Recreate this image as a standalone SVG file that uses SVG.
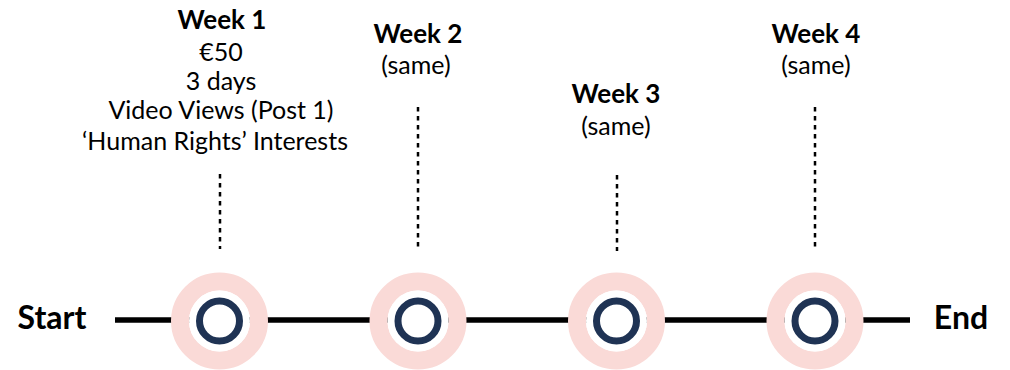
<svg xmlns="http://www.w3.org/2000/svg" width="1010" height="370" viewBox="0 0 1010 370">
  <style>
    text { font-family: Lato, "Open Sans", "Liberation Sans", sans-serif; fill: #000; text-anchor: middle; }
    .title { font-weight: bold; font-size: 26px; }
    .body { font-size: 25px; }
    .end { font-weight: bold; font-size: 32px; }
    .halo { fill: none; stroke: #FADAD7; stroke-width: 18; }
    .gap { fill: #fff; }
    .ring { fill: #fff; stroke: #1F3354; stroke-width: 7; }
    .tick { stroke: #000; stroke-width: 2.5; stroke-dasharray: 4.5 4.5; }
  </style>
  <rect width="1010" height="370" fill="#fff"/>

  <!-- timeline axis and tick connectors -->
  <g id="connectors">
    <line x1="115" y1="320" x2="910" y2="320" stroke="#000" stroke-width="5.5"/>
    <line class="tick" x1="220" y1="174" x2="220" y2="249"/>
    <line class="tick" x1="418" y1="107" x2="418" y2="251"/>
    <line class="tick" x1="617" y1="175" x2="617" y2="251"/>
    <line class="tick" x1="815" y1="107" x2="815" y2="251"/>
  </g>

  <g id="start"><text class="end" x="52" y="329">Start</text></g>
  <g id="end"><text class="end" x="961" y="329">End</text></g>

  <g id="week1">
    <circle class="halo" cx="219.5" cy="321" r="39.5"/>
    <circle class="gap" cx="219.5" cy="321" r="30.5"/>
    <circle class="ring" cx="219.5" cy="321" r="20"/>
    <text class="title" x="222" y="29">Week 1</text>
    <text class="body" x="221" y="61">€50</text>
    <text class="body" x="221" y="90">3 days</text>
    <text class="body" x="221" y="119">Video Views (Post 1)</text>
    <text class="body" x="215" y="150">‘Human Rights’ Interests</text>
  </g>

  <g id="week2">
    <circle class="halo" cx="418" cy="321" r="39.5"/>
    <circle class="gap" cx="418" cy="321" r="30.5"/>
    <circle class="ring" cx="418" cy="321" r="20"/>
    <text class="title" x="418" y="43">Week 2</text>
    <text class="body" x="416" y="74">(same)</text>
  </g>

  <g id="week3">
    <circle class="halo" cx="616.5" cy="321" r="39.5"/>
    <circle class="gap" cx="616.5" cy="321" r="30.5"/>
    <circle class="ring" cx="616.5" cy="321" r="20"/>
    <text class="title" x="616" y="103">Week 3</text>
    <text class="body" x="616" y="135">(same)</text>
  </g>

  <g id="week4">
    <circle class="halo" cx="815" cy="321" r="39.5"/>
    <circle class="gap" cx="815" cy="321" r="30.5"/>
    <circle class="ring" cx="815" cy="321" r="20"/>
    <text class="title" x="816" y="43">Week 4</text>
    <text class="body" x="816" y="74">(same)</text>
  </g>
</svg>
